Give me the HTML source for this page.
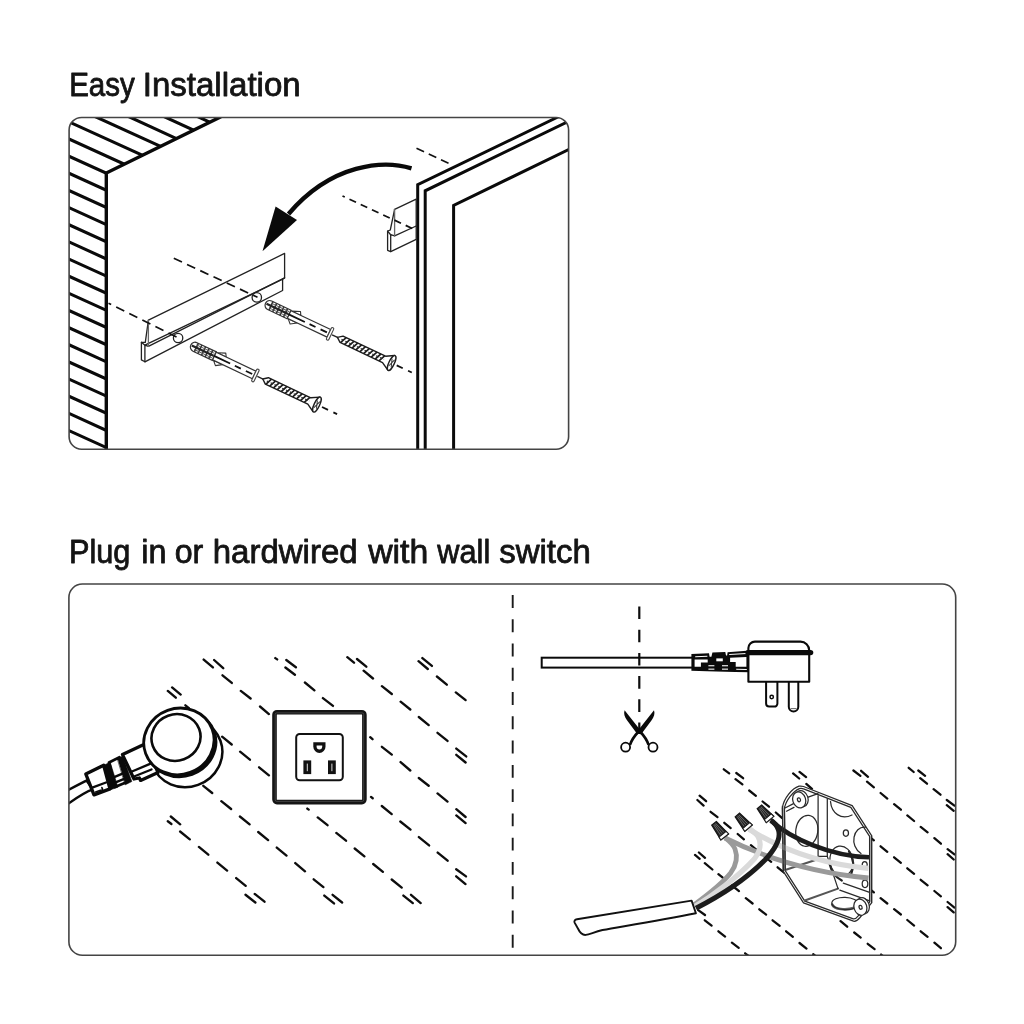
<!DOCTYPE html>
<html><head><meta charset="utf-8"><title>Installation</title>
<style>
html,body{margin:0;padding:0;background:#fff;}
body{width:1024px;height:1024px;overflow:hidden;position:relative;font-family:"Liberation Sans",sans-serif;}
.t{position:absolute;left:0;white-space:nowrap;color:#151515;font-size:32.4px;line-height:34px;}
#t1{left:67.9px;top:69.1px;letter-spacing:-0.12px;}
#t2{left:68.0px;top:535px;letter-spacing:0.13px;}
svg{position:absolute;left:0;top:0;will-change:transform;}
</style></head><body>
<svg width="1024" height="1024" viewBox="0 0 1024 1024">
<rect x="0" y="0" width="1024" height="1024" fill="#fff"/>
<g id="top">
<clipPath id="ct"><rect x="69.1" y="117.5" width="499.5" height="331.7" rx="12" ry="12"/></clipPath>
<g clip-path="url(#ct)">
<clipPath id="cw"><polygon points="60,110 221,110 221,117.5 219.4,117.5 106.3,173 106.3,460 60,460"/></clipPath>
<path clip-path="url(#cw)" d="M60.0,460.8 L230.0,538.1 M60.0,443.6 L230.0,521.0 M60.0,426.5 L230.0,503.8 M60.0,409.3 L230.0,486.7 M60.0,392.2 L230.0,469.5 M60.0,375.0 L230.0,452.4 M60.0,357.9 L230.0,435.2 M60.0,340.7 L230.0,418.1 M60.0,323.6 L230.0,400.9 M60.0,306.4 L230.0,383.8 M60.0,289.3 L230.0,366.6 M60.0,272.1 L230.0,349.5 M60.0,255.0 L230.0,332.3 M60.0,237.8 L230.0,315.2 M60.0,220.7 L230.0,298.0 M60.0,203.5 L230.0,280.9 M60.0,186.4 L230.0,263.7 M60.0,169.2 L230.0,246.6 M60.0,152.1 L230.0,229.4 M60.0,134.9 L230.0,212.3 M60.0,117.8 L230.0,195.1 M60.0,100.6 L230.0,178.0 M110.6,108.3 L250.6,172.7 M146.0,108.3 L286.0,172.7 M179.6,108.3 L319.6,172.7" stroke="#0a0a0a" stroke-width="3.1" fill="none"/>
<path d="M106.3,452 L106.3,173 L221,116.7" stroke="#0a0a0a" stroke-width="3.4" fill="none" stroke-linejoin="miter"/>
<g stroke="#0a0a0a" stroke-width="3" fill="none" stroke-linejoin="miter">
<path d="M417.7,452 L417.7,184.6 L560,116"/>
<path d="M425.2,452 L425.2,190.8 L575,118.2"/>
<path d="M453.6,452 L453.6,205.4 L575,146.4"/>
</g>
</g>
<g stroke="#111" stroke-width="1.7" fill="none" stroke-dasharray="7.2 5.2">
<path d="M416.5,148.3 L451,164.3" stroke-dasharray="8.3 5.2"/>
</g>
<path d="M411.5,168.3 C384,160 332,163 288.5,214" stroke="#0a0a0a" stroke-width="4.4" fill="none"/>
<polygon points="262.5,251.3 275.6,206.4 297,220" fill="#0a0a0a"/>
<g stroke="#222" stroke-width="1.3" fill="#fff" stroke-linejoin="round" stroke-linecap="round">
<path d="M394.6,209.3 L416.2,199.1 L416.2,239.4 L390.7,251.6 L387.6,250.3 L387.6,231.2 L390.3,230 Z"/>
<path d="M390.7,251.6 L390.7,234.7 L394.6,235.9 L416.2,226" fill="none"/>
<path d="M387.6,231.2 L390.7,234.7" fill="none"/>
<path d="M394.6,209.3 L394.6,235.9" fill="none" stroke="#666"/>
</g>
<path d="M342.5,196 L412.5,228.6" stroke="#111" stroke-width="1.8" fill="none" stroke-dasharray="7.2 5.2" stroke-dashoffset="4.7"/>
<g stroke="#222" stroke-width="1.3" fill="#fff" stroke-linejoin="round" stroke-linecap="round">
<path d="M148.4,320.2 L284.6,253.4 L284.6,277.9 L282.6,279.2 L282.6,290.5 L144.9,361.8 L141.4,359.9 L141.4,342.3 L145.3,342.3 Z"/>
<path d="M144.9,361.8 L144.9,345.2 L148.4,346.4 L284.6,277.9" fill="none"/>
<path d="M141.4,342.3 L144.9,345.2 L282.6,279.2" fill="none"/>
<path d="M148.4,320.2 L148.4,346.4" fill="none" stroke="#666"/>
<circle cx="178.1" cy="338" r="4.7"/>
<circle cx="256.8" cy="297.4" r="4.7"/>
</g>
<g stroke="#111" stroke-width="1.7" fill="none" stroke-dasharray="7.2 5.2">
<path d="M173.8,258.3 L257.5,297.3" stroke-dasharray="9 5.6"/>
<path d="M108.5,303.2 L177.6,337.6" stroke-dasharray="9 5.6" stroke-dashoffset="6"/>
</g>
<g transform="translate(190.9,345.0) rotate(25.3)">
<path d="M4.5,-4.7 L26,-4.7 L26,4.7 L4.5,4.7 A4.6,4.7 0 0 1 4.5,-4.7 Z" fill="#fff" stroke="#333" stroke-width="1.2"/>
<path d="M6.0,-4.7 L6.0,4.7 M10.0,-4.7 L10.0,4.7 M14.0,-4.7 L14.0,4.7 M18.0,-4.7 L18.0,4.7 M22.0,-4.7 L22.0,4.7" stroke="#333" stroke-width="1.6" fill="none"/>
<path d="M1,0 L25,0" stroke="#222" stroke-width="2.2" fill="none"/>
<path d="M5,-2.6 L25,-2.6 M5,2.6 L25,2.6" stroke="#555" stroke-width="0.9" fill="none"/>
<path d="M27,-4.2 L35,-7.6 L37,-4.2 Z M27,4.2 L31,8.2 L37,4.2 Z" fill="#fff" stroke="#333" stroke-width="1.1" stroke-linejoin="round"/>
<path d="M26,-4.2 L70,-4.2 L70,4.2 L26,4.2 Z" fill="#fff" stroke="#333" stroke-width="1.2"/>
<path d="M25,0 L43.4,0 M48.6,0 L55.2,0 M60.8,0 L67.8,0" stroke="#111" stroke-width="1.8" fill="none"/>
<rect x="70" y="-6.8" width="2.6" height="13.6" rx="1.2" fill="#fff" stroke="#444" stroke-width="1.1"/>
<path d="M73.5,0 L82,0" stroke="#222" stroke-width="1.3" fill="none"/>
<path d="M79.5,0 L84,-3.5 L131,-3.5 L138.8,-8 L138.8,8 L131,3.5 L84,3.5 Z" fill="#fff" stroke="#1c1c1c" stroke-width="1.4" stroke-linejoin="round"/>
<path d="M84.5,3.5 L87.5,-3.5 M88.8,3.5 L91.8,-3.5 M93.0,3.5 L96.0,-3.5 M97.2,3.5 L100.2,-3.5 M101.5,3.5 L104.5,-3.5 M105.8,3.5 L108.8,-3.5 M110.0,3.5 L113.0,-3.5 M114.2,3.5 L117.2,-3.5 M118.5,3.5 L121.5,-3.5 M122.8,3.5 L125.8,-3.5 M127.0,3.5 L130.0,-3.5" stroke="#1c1c1c" stroke-width="1.7" fill="none"/>
<path d="M84,0.1 L131,0.1" stroke="#2a2a2a" stroke-width="1.2" fill="none" stroke-dasharray="2.6 1.65"/>
<ellipse cx="139.4" cy="0" rx="2.7" ry="8.2" fill="#fff" stroke="#1c1c1c" stroke-width="1.4"/>
<path d="M138,-4 L140.8,4 M138,4 L140.8,-4" stroke="#333" stroke-width="1" fill="none"/>
<path d="M145,0 L151.7,0 M157.6,0 L161.7,0" stroke="#111" stroke-width="1.8" fill="none"/>
</g>
<g transform="translate(265.6,303.4) rotate(25.3)">
<path d="M4.5,-4.7 L26,-4.7 L26,4.7 L4.5,4.7 A4.6,4.7 0 0 1 4.5,-4.7 Z" fill="#fff" stroke="#333" stroke-width="1.2"/>
<path d="M6.0,-4.7 L6.0,4.7 M10.0,-4.7 L10.0,4.7 M14.0,-4.7 L14.0,4.7 M18.0,-4.7 L18.0,4.7 M22.0,-4.7 L22.0,4.7" stroke="#333" stroke-width="1.6" fill="none"/>
<path d="M1,0 L25,0" stroke="#222" stroke-width="2.2" fill="none"/>
<path d="M5,-2.6 L25,-2.6 M5,2.6 L25,2.6" stroke="#555" stroke-width="0.9" fill="none"/>
<path d="M27,-4.2 L35,-7.6 L37,-4.2 Z M27,4.2 L31,8.2 L37,4.2 Z" fill="#fff" stroke="#333" stroke-width="1.1" stroke-linejoin="round"/>
<path d="M26,-4.2 L70,-4.2 L70,4.2 L26,4.2 Z" fill="#fff" stroke="#333" stroke-width="1.2"/>
<path d="M25,0 L43.4,0 M48.6,0 L55.2,0 M60.8,0 L67.8,0" stroke="#111" stroke-width="1.8" fill="none"/>
<rect x="70" y="-6.8" width="2.6" height="13.6" rx="1.2" fill="#fff" stroke="#444" stroke-width="1.1"/>
<path d="M73.5,0 L82,0" stroke="#222" stroke-width="1.3" fill="none"/>
<path d="M79.5,0 L84,-3.5 L131,-3.5 L138.8,-8 L138.8,8 L131,3.5 L84,3.5 Z" fill="#fff" stroke="#1c1c1c" stroke-width="1.4" stroke-linejoin="round"/>
<path d="M84.5,3.5 L87.5,-3.5 M88.8,3.5 L91.8,-3.5 M93.0,3.5 L96.0,-3.5 M97.2,3.5 L100.2,-3.5 M101.5,3.5 L104.5,-3.5 M105.8,3.5 L108.8,-3.5 M110.0,3.5 L113.0,-3.5 M114.2,3.5 L117.2,-3.5 M118.5,3.5 L121.5,-3.5 M122.8,3.5 L125.8,-3.5 M127.0,3.5 L130.0,-3.5" stroke="#1c1c1c" stroke-width="1.7" fill="none"/>
<path d="M84,0.1 L131,0.1" stroke="#2a2a2a" stroke-width="1.2" fill="none" stroke-dasharray="2.6 1.65"/>
<ellipse cx="139.4" cy="0" rx="2.7" ry="8.2" fill="#fff" stroke="#1c1c1c" stroke-width="1.4"/>
<path d="M138,-4 L140.8,4 M138,4 L140.8,-4" stroke="#333" stroke-width="1" fill="none"/>
<path d="M145,0 L151.7,0 M157.6,0 L161.7,0" stroke="#111" stroke-width="1.8" fill="none"/>
</g>
</g>
<g id="bl">
<path d="M167.8,690.9 L175.8,697.7 M172.1,687.4 L180.7,694.6 M185.4,705.3 L188.9,708.1 M203.3,785.8 L212.2,793.0 M221.3,801.2 L231.1,809.0 M239.9,816.5 L249.6,824.3 M258.2,832.0 L268.1,840.1 M276.8,847.6 L286.5,855.6 M295.3,863.1 L305.0,871.3 M313.7,879.3 L323.4,887.1 M324.3,895.6 L334.0,903.4 M332.6,894.8 L342.1,902.5 M222.1,736.7 L231.7,744.5 M240.1,751.7 L249.9,759.7 M259.1,767.3 L268.9,775.3 M203.7,659.6 L212.9,667.4 M214.1,660.0 L223.2,668.2 M222.5,675.3 L231.8,682.9 M240.8,690.9 L250.6,698.5 M260.0,706.5 L268.9,714.1 M275.3,658.1 L277.2,659.4 M286.3,660.0 L295.9,667.2 M285.4,667.5 L294.9,674.7 M304.9,682.5 L314.4,690.3 M322.9,698.1 L333.0,705.9 M347.3,657.2 L354.0,662.7 M357.0,659.0 L366.3,666.7 M363.6,670.7 L373.0,678.5 M381.9,686.2 L391.8,694.0 M400.6,701.7 L410.3,709.5 M418.8,717.0 L428.7,725.1 M437.5,732.8 L447.5,740.9 M456.3,754.8 L465.6,762.5 M456.3,748.6 L466.2,756.4 M418.5,661.2 L427.8,669.0 M422.4,658.1 L431.9,665.9 M436.9,676.5 L446.8,684.7 M455.8,692.4 L465.6,700.1 M370.2,737.2 L372.5,739.2 M381.9,746.8 L391.8,754.6 M400.6,762.1 L410.3,770.5 M418.8,778.0 L428.7,785.7 M437.5,793.4 L447.5,801.6 M456.3,809.2 L465.6,817.0 M456.3,815.4 L465.6,823.1 M371.0,796.9 L372.7,798.2 M381.8,806.0 L391.7,814.1 M400.3,821.5 L410.5,829.6 M418.9,837.1 L429.1,845.4 M437.7,852.6 L447.6,860.7 M456.2,869.3 L466.0,876.4 M456.2,876.3 L465.5,884.1 M307.3,808.6 L308.7,809.6 M317.7,817.4 L327.5,825.2 M336.3,832.9 L346.0,840.7 M354.7,848.5 L364.4,856.3 M373.2,864.0 L382.9,871.8 M391.7,879.5 L401.7,887.6 M403.4,895.6 L412.8,903.1 M411.0,894.8 L420.7,903.1 M170.8,816.5 L180.2,824.3 M167.8,821.3 L171.4,824.0 M180.1,831.5 L189.8,839.3 M198.9,846.9 L208.3,854.7 M217.4,862.6 L227.1,870.6 M236.2,878.1 L245.7,885.8 M245.5,894.8 L255.4,902.5 M254.7,893.9 L264.5,901.7" stroke="#0d0d0d" stroke-width="2.35" fill="none" stroke-linecap="round"/>
<rect x="274.5" y="712.2" width="89.9" height="89.9" rx="2.5" fill="#fff" stroke="#151515" stroke-width="4.6"/>
<rect x="275.2" y="712.9" width="88.5" height="88.5" rx="1.5" fill="none" stroke="#555" stroke-width="0.7"/>
<rect x="296.2" y="734" width="46.6" height="46.2" rx="3.5" fill="#fff" stroke="#111" stroke-width="2"/>
<path d="M313.3,742.2 L325.5,742.2 L325.5,746.5 A6.1,6.4 0 0 1 313.3,746.5 Z" fill="#111"/>
<path d="M316.6,745.6 L322.2,745.6 L322.2,746.6 A2.8,3 0 0 1 316.6,746.6 Z" fill="#fff"/>
<rect x="303.4" y="760.4" width="7.8" height="13.7" fill="#111"/>
<rect x="328" y="760.4" width="7.8" height="13.7" fill="#111"/>
<path d="M307.3,763.6 L307.3,771.2 M331.9,763.6 L331.9,771.2" stroke="#ddd" stroke-width="1"/>
<clipPath id="cbl"><rect x="69" y="584" width="444" height="371"/></clipPath>
<g clip-path="url(#cbl)">
<path d="M60,794 C70,789.3 78,785 86.5,780.6 L93,789.4 C82,793 74,800 60,809.5 Z" fill="#fff" stroke="#0a0a0a" stroke-width="2.5"/>
</g>
<ellipse cx="186.5" cy="753.1" rx="36.1" ry="33.8" fill="#fff" stroke="#0a0a0a" stroke-width="2.5" transform="rotate(-20 186.5 753.1)"/>
<g stroke="#0a0a0a" stroke-linejoin="round" stroke-linecap="round">
<path d="M122.5,754.6 L146,743.6 L158,772.5 L140.6,780.4 L139.4,778 L134,779 Z" fill="#fff" stroke-width="3.3"/>
<path d="M130.8,772 L150,763.9 M132.8,777 L151.5,769.5" fill="none" stroke-width="2.3"/>
<path d="M85.8,774 L103.7,765.3 L110,788.9 L94,794.8 Z" fill="#fff" stroke-width="3.4"/>
<path d="M92.2,787.6 L106,782.5" fill="none" stroke-width="2.3"/>
<path d="M95.6,792 L102.6,789.4 L101.9,787.6" fill="none" stroke-width="1.6"/>
<path d="M109,762.4 L119.5,757.3 L127,782 L115,787 Z" fill="#fff" stroke-width="2.8"/>
<path d="M113.5,777.4 L125.5,772.4 M115,782.6 L126.6,777.9" fill="none" stroke-width="2.4"/>
<path d="M104.4,765 L110.2,762.2 L117.9,787.2 L110.4,789.8 Z" fill="#0a0a0a" stroke-width="0.6"/>
<path d="M117.6,758.6 L122.7,756.2 L131.8,781.5 L125.4,784.7 Z" fill="#0a0a0a" stroke-width="0.6"/>
</g>
<ellipse cx="180.8" cy="743.4" rx="35.6" ry="33.2" fill="#0a0a0a" stroke="#0a0a0a" stroke-width="2.4" transform="rotate(-20 180.8 743.4)"/>
<ellipse cx="178.9" cy="741.4" rx="35.4" ry="33" fill="#fff" stroke="#0a0a0a" stroke-width="2.8" transform="rotate(-20 178.9 741.4)"/>
<ellipse cx="176" cy="737.5" rx="24.7" ry="23.2" fill="#fff" stroke="#0a0a0a" stroke-width="2.6" transform="rotate(-20 176 737.5)"/>
</g>
<g id="br">
<clipPath id="cbr"><rect x="513" y="584" width="442.7" height="371" /></clipPath>
<g clip-path="url(#cbr)">
<path d="M698.2,910.1 L705.0,915.0 M704.8,920.3 L711.6,925.6 M718.4,931.3 L725.1,936.6 M731.9,942.7 L738.7,947.9 M745.1,953.3 L749.4,956.5 M695.0,854.9 L699.7,858.8 M698.9,852.5 L705.0,857.8 M704.8,863.2 L712.4,869.5 M718.4,874.2 L725.2,879.7 M732.0,885.5 L739.0,891.1 M745.8,898.1 L752.6,903.5 M759.3,909.3 L766.1,914.6 M772.6,920.3 L779.7,925.9 M786.1,931.3 L792.9,936.9 M799.5,943.0 L806.5,948.6 M813.2,954.1 L817.4,957.5 M697.4,800.0 L703.6,805.6 M699.6,795.7 L706.1,801.2 M710.6,811.8 L717.5,817.1 M724.3,822.8 L730.7,828.1 M737.7,834.0 L743.9,839.3 M750.9,845.2 L757.4,850.5 M764.4,856.3 L771.2,861.9 M777.6,867.3 L784.4,872.9 M840.6,921.1 L847.2,926.7 M854.2,932.5 L860.7,937.6 M867.7,943.8 L874.6,949.1 M881.1,954.5 L885.4,958.1 M723.8,769.3 L729.2,773.4 M736.3,773.0 L743.1,778.2 M735.5,779.2 L742.4,784.4 M749.2,790.5 L755.9,795.8 M762.6,801.5 L769.0,806.7 M775.8,812.5 L781.9,817.8 M871.4,890.5 L873.9,892.4 M880.6,898.1 L887.3,903.5 M894.1,909.1 L900.9,914.5 M907.3,920.0 L914.1,925.6 M920.7,931.3 L927.6,936.9 M934.4,942.7 L940.9,948.2 M793.1,773.4 L799.2,778.5 M799.5,771.9 L806.1,777.1 M806.3,783.9 L812.0,788.8 M871.4,838.3 L873.9,840.3 M880.6,846.3 L887.3,851.9 M894.1,857.3 L900.9,862.9 M907.3,868.3 L914.1,873.9 M920.7,879.8 L927.6,885.3 M934.4,891.0 L940.9,896.3 M947.6,902.0 L954.4,907.6 M947.6,907.1 L953.7,912.4 M853.4,770.5 L860.4,775.9 M861.1,770.8 L868.0,776.8 M867.0,781.7 L873.9,787.3 M880.6,793.0 L887.3,798.6 M894.1,804.2 L900.9,809.7 M907.3,815.4 L914.1,821.0 M920.7,826.9 L927.6,832.3 M934.4,838.1 L940.9,843.7 M947.6,849.1 L954.4,854.4 M947.6,854.2 L953.7,859.5 M908.7,767.8 L913.7,772.0 M918.3,770.5 L925.1,775.9 M920.2,778.1 L927.0,783.7 M933.6,789.1 L940.5,794.7 M946.8,800.0 L954.4,805.6 M946.8,805.2 L953.7,810.8" stroke="#0d0d0d" stroke-width="2.25" fill="none" stroke-linecap="round"/>
</g>
<rect x="541.7" y="657.7" width="152" height="9.9" fill="#fff" stroke="#0a0a0a" stroke-width="2"/>
<path d="M639.3,606.5 L639.3,734" stroke="#0d0d0d" stroke-width="2.2" stroke-dasharray="12.6 10.6" fill="none"/>
<g fill="#0a0a0a" stroke="none">
<path d="M624.6,710.3 C623.4,713.5 624.6,717 627,720.2 L637.6,734.4 L641.4,731.4 Z"/>
<path d="M654,710.3 C655.2,713.5 654,717 651.6,720.2 L641,734.4 L637.2,731.4 Z"/>
</g>
<g fill="none" stroke="#0a0a0a">
<path d="M640.5,732 C646,738 647.5,741.5 648.6,744.8" stroke-width="2.6"/>
<path d="M638.1,732 C632.6,738 631.1,741.5 630,744.8" stroke-width="2.6"/>
<circle cx="625.6" cy="747.2" r="4.5" stroke-width="1.8" fill="#fff"/>
<circle cx="653" cy="747.2" r="4.5" stroke-width="1.8" fill="#fff"/>
</g>
<g stroke="none">
<path d="M691.4,653.9 L709,653.2 L709.6,656.8 L711.4,656.8 L712.4,652.6 L725.3,651.9 L726,655.6 L727.1,655.6 L727.6,652.2 L750,650.4 L750,672.3 L735,671.9 L707,671.3 L691.4,670.8 Z" fill="#0a0a0a"/>
<g fill="#fff">
<path d="M694.6,659.6 L707.7,659.6 L707.7,662.6 L700.9,662.6 L700.9,666.8 L694.6,666.8 Z"/>
<path d="M695.2,656.3 L707.4,655.7 L707.4,656.7 L695.2,657.3 Z"/>
<rect x="716.3" y="658.4" width="6.5" height="2.9"/>
<rect x="708.4" y="665.2" width="6" height="1.1"/><rect x="722" y="665.2" width="6" height="1.1"/>
<rect x="708.4" y="668.6" width="6" height="1.1"/><rect x="722" y="668.6" width="6" height="1.1"/>
<path d="M730.1,657.8 L746.4,657 L746.4,666.8 L735.7,666.8 L735.7,662 L730.1,662 Z"/>
<path d="M729.2,654 L746.6,652.9 L746.6,653.9 L729.2,655 Z"/>
<path d="M736.2,668.7 L746.8,669 L746.8,670 L736.2,669.7 Z"/>
</g></g>
<path d="M766.1,681 L766.1,703.6 A3,3 0 0 0 769.1,706.6 L774.4,706.6 A3,3 0 0 0 777.4,703.6 L777.4,681" fill="#fff" stroke="#0a0a0a" stroke-width="2"/>
<circle cx="771.7" cy="697" r="1.7" fill="#fff" stroke="#0a0a0a" stroke-width="1.5"/>
<path d="M788.8,681 L788.8,706.8 A4.75,4.75 0 0 0 798.3,706.8 L798.3,681" fill="#fff" stroke="#0a0a0a" stroke-width="2"/>
<path d="M790.5,708.6 L796.6,708.6" stroke="#555" stroke-width="0.9" fill="none"/>
<path d="M748.4,681.7 L748.4,648 A6.5,6.5 0 0 1 754.9,641.6 L800.5,641.6 A8.7,8.7 0 0 1 809.2,650.3 L809.2,681.7 Z" fill="#fff" stroke="#0a0a0a" stroke-width="2.1" stroke-linejoin="round"/>
<path d="M748,652.6 L810.6,652.6" stroke="#0a0a0a" stroke-width="5.4" fill="none" stroke-linecap="round"/>
<g stroke="#2a2a2a" stroke-width="1.25" fill="none" stroke-linejoin="round" stroke-linecap="round">
<path d="M803.5,786.5 L852.2,805.7 L871.6,835.6 L871.6,902.9 L860,917.5 C857.5,920.5 856,921.8 853.5,921.2 L803.5,902.9 L783.3,871.3 L782.4,808 C783.5,798.5 792,788.5 799,786.2 C800.6,785.8 802,786 803.5,786.5 Z" fill="#fff"/>
<path d="M803.6,788.9 L850.8,807.3 L869.6,836.3 L869.6,902 L858.5,915.6 C856.5,918.2 855.3,919.2 853.3,918.8 L804.8,901.2 L785.2,870.6 L784.4,808.6 C785.6,800.6 793,791.4 799.4,788.6 C800.8,788.1 802.2,788.3 803.6,788.9 Z"/>
<path d="M818.1,795.5 L818.1,856.4 L827.3,856.4 L827.3,798.5"/>
<path d="M785.2,870 L818.5,859 M804.8,900.5 L838,888.6" stroke="#555" stroke-width="2"/>
<path d="M839.8,890.1 L869.6,900.9 M843.3,883.1 L869.6,892.4 M827.3,856.4 L838,888.6"/>
<path d="M832.2,904.5 C834,909.5 846,910.6 854.4,907.8" stroke="#666" stroke-width="2.6"/>
<path d="M849,851.5 C854.5,860 853.5,868.5 851.2,874 M829.6,864 C831.5,872 836,877.5 841.8,880.5" stroke="#222" stroke-width="2.2"/>
<path d="M785,808 L793.5,803.6 M786.5,811.2 L794,807.4 M807.5,797.4 L818,793.6"/>
<ellipse cx="806.8" cy="830.8" rx="11" ry="15.6" transform="rotate(8 806.8 830.8)"/>
<path d="M830.5,801.5 C831.5,813 841,820.5 852,815"/>
<path d="M865.5,827.2 C853,826 849,846 861,853.5"/>
<ellipse cx="841.5" cy="861" rx="11.5" ry="15" transform="rotate(-10 841.5 861)"/>
<ellipse cx="845" cy="903.5" rx="13.2" ry="6.2" transform="rotate(2 845 903.5)"/>
<ellipse cx="845.9" cy="833.1" rx="2.6" ry="3.2"/>
<ellipse cx="864.7" cy="864.8" rx="2.5" ry="3.2"/>
<ellipse cx="865" cy="883.8" rx="2.8" ry="3.7"/>
<ellipse cx="801.6" cy="798.6" rx="6.4" ry="8.2" fill="#fff" transform="rotate(-18 801.6 798.6)"/>
<ellipse cx="799.2" cy="799.9" rx="6.4" ry="8.2" fill="#fff" transform="rotate(-18 799.2 799.9)"/>
<ellipse cx="799" cy="799.8" rx="1.5" ry="2" transform="rotate(-18 799 799.8)"/>
<ellipse cx="862.8" cy="905.8" rx="6.4" ry="8.2" fill="#fff" transform="rotate(-18 862.8 905.8)"/>
<ellipse cx="860.4" cy="907.2" rx="6.4" ry="8.2" fill="#fff" transform="rotate(-18 860.4 907.2)"/>
<ellipse cx="860.6" cy="907.3" rx="1.5" ry="2" transform="rotate(-18 860.6 907.3)"/>
</g>
<g fill="none" stroke-linecap="butt">
<path d="M725,838 C750,850.5 800,871.5 868.5,878" stroke="#9a9a9a" stroke-width="4.8"/>
<path d="M749,829.2 C775,845.5 815,863.5 868.5,868.4" stroke="#dadada" stroke-width="5.2"/>
<path d="M694.3,904.6 C706,896 722,884 730.8,872.7 C737,864 737.6,856 735,849 C733.5,845 730,841.5 725,837.6" stroke="#9a9a9a" stroke-width="4.8"/>
<path d="M695.2,906.2 C712,896 738,877 754.5,858.7 C761,850 761.6,843 758,836.5 C756,833 753,831 748.6,828.2" stroke="#dadada" stroke-width="5.2"/>
<path d="M696,908.2 C722,895 747,878 765.2,859.8 C776,848 781,838 778.5,830 C777,825.5 775,823 770.6,820.2" stroke="#1c1c1c" stroke-width="5"/>
<path d="M771.5,821 C790,838 830,856.2 869,857.3" stroke="#1c1c1c" stroke-width="4.6"/>
</g>
<g stroke="#2a2a2a" stroke-width="1.25" fill="none">
<path d="M782.4,805.7 L783.3,871.3 M784.4,806.6 L785.2,870.6 M871.6,835.6 L871.6,902.9 M869.6,836.3 L869.6,902"/>
</g>
<g transform="translate(714.0,823.3) rotate(51.8)">
<path d="M0,-2.9 L17.3,-4.9 L17.3,4.9 L0,2.9 Z" fill="#242424" stroke="#161616" stroke-width="1.2"/>
<path d="M1,-1.2 L13.3,-2.2 M1,1.2 L13.3,2.2 M1,0 L13.3,0" stroke="#8a8a8a" stroke-width="0.6" fill="none"/>
<path d="M13.9,-4.5 L17.3,-4.9 L17.3,4.9 L13.9,4.5 Z" fill="#fff" stroke="#1a1a1a" stroke-width="1"/>
</g>
<g transform="translate(737.4,815.0) rotate(49.7)">
<path d="M0,-2.9 L17.2,-4.9 L17.2,4.9 L0,2.9 Z" fill="#242424" stroke="#161616" stroke-width="1.2"/>
<path d="M1,-1.2 L13.2,-2.2 M1,1.2 L13.2,2.2 M1,0 L13.2,0" stroke="#8a8a8a" stroke-width="0.6" fill="none"/>
<path d="M13.8,-4.5 L17.2,-4.9 L17.2,4.9 L13.8,4.5 Z" fill="#fff" stroke="#1a1a1a" stroke-width="1"/>
</g>
<g transform="translate(759.4,806.8) rotate(49.9)">
<path d="M0,-2.9 L16.5,-4.9 L16.5,4.9 L0,2.9 Z" fill="#242424" stroke="#161616" stroke-width="1.2"/>
<path d="M1,-1.2 L12.5,-2.2 M1,1.2 L12.5,2.2 M1,0 L12.5,0" stroke="#8a8a8a" stroke-width="0.6" fill="none"/>
<path d="M13.1,-4.5 L16.5,-4.9 L16.5,4.9 L13.1,4.5 Z" fill="#fff" stroke="#1a1a1a" stroke-width="1"/>
</g>
<path d="M577,919.3 C592,917 632,910.6 691.6,900.6 L695.9,913.3 C660,920.3 625,926 602.5,930 C594,932.2 589.5,934.3 585.8,934.9 C581.5,935.3 579.6,932 578.2,929 L574.6,922.6 C573.9,920.7 575,919.6 577,919.3 Z" fill="#fff" stroke="#111" stroke-width="1.9" stroke-linejoin="round"/>
</g>
<rect x="69.1" y="117.5" width="499.5" height="331.7" rx="12.5" ry="12.5" fill="none" stroke="#444" stroke-width="1.6"/>
<rect x="68.9" y="584" width="886.8" height="371.2" rx="13.5" ry="13.5" fill="none" stroke="#444" stroke-width="1.6"/>
<path d="M512.7,595 L512.7,948" stroke="#1a1a1a" stroke-width="1.9" stroke-dasharray="12.9 11.37" fill="none"/>
<g font-family="Liberation Sans, sans-serif" font-size="32.4" fill="#141414" stroke="#141414" stroke-width="0.8" stroke-linejoin="round">
<text x="69.17" y="96.3" textLength="65.65" lengthAdjust="spacingAndGlyphs">Easy</text>
<text x="142.74" y="96.3" textLength="157.96" lengthAdjust="spacingAndGlyphs">Installation</text>
<text x="68.95" y="562.5" textLength="61.49" lengthAdjust="spacingAndGlyphs">Plug</text>
<text x="141.20" y="562.5" textLength="25.22" lengthAdjust="spacingAndGlyphs">in</text>
<text x="174.71" y="562.5" textLength="28.60" lengthAdjust="spacingAndGlyphs">or</text>
<text x="212.76" y="562.5" textLength="144.81" lengthAdjust="spacingAndGlyphs">hardwired</text>
<text x="368.20" y="562.5" textLength="60.12" lengthAdjust="spacingAndGlyphs">with</text>
<text x="437.30" y="562.5" textLength="52.92" lengthAdjust="spacingAndGlyphs">wall</text>
<text x="499.18" y="562.5" textLength="91.66" lengthAdjust="spacingAndGlyphs">switch</text>
</g>
</svg>
</body></html>
